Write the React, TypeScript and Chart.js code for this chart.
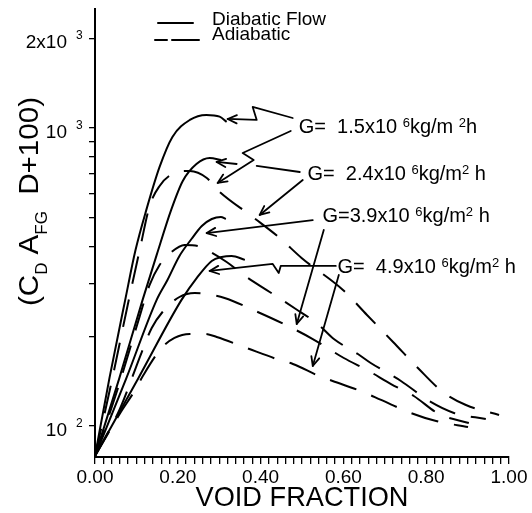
import React, { useEffect, useRef } from 'react';
import { Chart, registerables } from 'chart.js';

Chart.register(...registerables);

const FONT = '"Liberation Sans", Arial, Helvetica, sans-serif';

// ---- series: void fraction (x) vs C_D A_FG D + 100 (y) ----
// Diabatic flow (solid)
const diab15X = [0, 0.035, 0.073, 0.098, 0.124, 0.156, 0.187, 0.229, 0.269, 0.301, 0.318];
const diab15Y = [79.3, 145, 265, 390, 531, 740, 933, 1064, 1106, 1091, 1048];
const diab24X = [0, 0.059, 0.115, 0.149, 0.184, 0.212, 0.245, 0.277, 0.305];
const diab24Y = [79.3, 145, 265, 375, 531, 664, 757, 793, 781];
const diab39X = [0, 0.076, 0.149, 0.175, 0.204, 0.233, 0.258, 0.282, 0.304, 0.316];
const diab39Y = [79.3, 145, 265, 309, 372, 424, 469, 495, 503, 495];
const diab49X = [0, 0.105, 0.209, 0.246, 0.282, 0.306, 0.33, 0.362];
const diab49Y = [79.3, 145, 265, 314, 358, 369, 372, 361];

// Adiabatic (dashed)
const adia15X = [0, 0.04, 0.079, 0.108, 0.132, 0.156, 0.187, 0.229, 0.27, 0.296, 0.381, 0.446, 0.499, 0.599, 0.657, 0.72, 0.78, 0.84, 0.896, 0.976];
const adia15Y = [79.3, 140.5, 254.7, 389.6, 547.4, 638.9, 700.8, 717.3, 679.7, 619.4, 502.7, 427.5, 366.3, 286.0, 235.8, 191.4, 156.5, 130.1, 117.6, 108.9];
const adia24X = [0, 0.054, 0.098, 0.132, 0.156, 0.185, 0.216, 0.248, 0.27, 0.318, 0.366, 0.422, 0.485, 0.538, 0.577, 0.635, 0.666, 0.707, 0.739, 0.811, 0.867, 0.944];
const adia24Y = [79.3, 132.1, 209.9, 297.3, 347.0, 383.7, 405.1, 401.9, 389.6, 355.1, 316.2, 281.6, 246.9, 219.9, 195.8, 174.4, 162.7, 150.6, 141.6, 120.4, 110.6, 105.6];
const adia39X = [0, 0.059, 0.113, 0.137, 0.163, 0.204, 0.241, 0.27, 0.313, 0.393, 0.456, 0.526, 0.601, 0.661, 0.715, 0.77, 0.831, 0.903];
const adia39Y = [79.3, 113.2, 177.1, 213.2, 241.3, 270.9, 279.4, 277.3, 268.9, 241.3, 219.9, 195.8, 169.1, 153.0, 138.3, 126.1, 109.7, 102.4];
const adia49X = [0, 0.061, 0.097, 0.117, 0.161, 0.192, 0.229, 0.265, 0.294, 0.366, 0.446, 0.478, 0.541, 0.574, 0.647, 0.691, 0.763, 0.824, 0.901];
const adia49Y = [79.3, 110.6, 132.1, 148.3, 182.7, 197.4, 203.6, 203.6, 198.9, 182.7, 166.5, 161.5, 147.2, 141.6, 130.1, 122.3, 110.6, 103.9, 99.2];

// ---- axes ----
const X_MIN = 0;
const X_MAX = 1;
const Y_MIN = 78.7;
const Y_MAX = 2507;
const xTickValues = Array.from({ length: 51 }, (_, i) => i / 50);
const xLabelValues = [0, 0.2, 0.4, 0.6, 0.8, 1.0];
const xLabelTexts = ['0.00', '0.20', '0.40', '0.60', '0.80', '1.00'];
const yTickValues = [100, 200, 300, 400, 500, 600, 700, 800, 900, 1000, 2000];
const yLabelValues = [100, 1000, 2000];
const yLabelBases = ['10', '10', '2x10'];
const yLabelExps = ['2', '3', '3'];

const legendTexts = ['Diabatic Flow', 'Adiabatic'];
const xTitle = 'VOID FRACTION';

// ---- annotations (data coordinates: [void fraction, value]) ----
type Pt = [number, number];
const arrowPaths: { pts: Pt[]; head: boolean }[] = [
  { pts: [[0.4776, 1080], [0.3809, 1176], [0.3906, 1064], [0.3204, 1072]], head: true },
  { pts: [[0.4728, 977], [0.3567, 824], [0.3833, 781], [0.2963, 654]], head: true },
  { pts: [[0.4946, 711.6], [0.3906, 745.6]], head: false },
  { pts: [[0.3422, 757], [0.2938, 769]], head: true },
  { pts: [[0.5018, 669], [0.3978, 510.6]], head: true },
  { pts: [[0.526, 491], [0.2697, 444]], head: true },
  { pts: [[0.5526, 454.7], [0.4873, 219.9]], head: true },
  { pts: [[0.5816, 344.4], [0.4486, 344.4], [0.4438, 326.2], [0.4293, 349.8], [0.2769, 331.3]], head: true },
  { pts: [[0.5889, 321.2], [0.526, 159]], head: true },
];

type Part = [string, number]; // 0 normal, 1 superscript
const gLabels: { x: number; y: number; parts: Part[] }[] = [
  { x: 0.4921, y: 964, parts: [['G=  1.5x10 ', 0], ['6', 1], ['kg/m ', 0], ['2', 1], ['h', 0]] },
  { x: 0.5133, y: 669, parts: [['G=  2.4x10 ', 0], ['6', 1], ['kg/m', 0], ['2', 1], [' h', 0]] },
  { x: 0.5494, y: 485, parts: [['G=3.9x10 ', 0], ['6', 1], ['kg/m', 0], ['2', 1], [' h', 0]] },
  { x: 0.5857, y: 327, parts: [['G=  4.9x10 ', 0], ['6', 1], ['kg/m', 0], ['2', 1], [' h', 0]] },
];

const yTitleParts: Part[] = [['(C', 0], ['D', -1], [' A', 0], ['FG', -1], ['  D+100)', 0]];

function drawParts(ctx: CanvasRenderingContext2D, parts: Part[], x: number, y: number, big: number, small: number, shift: number) {
  let cx = x;
  for (const [t, k] of parts) {
    ctx.font = `${k === 0 ? big : small}px ${FONT}`;
    const dy = k === 1 ? -shift : k === -1 ? shift : 0;
    ctx.fillText(t, cx, y + dy);
    cx += ctx.measureText(t).width;
  }
  return cx - x;
}

function measureParts(ctx: CanvasRenderingContext2D, parts: Part[], big: number, small: number) {
  let w = 0;
  for (const [t, k] of parts) {
    ctx.font = `${k === 0 ? big : small}px ${FONT}`;
    w += ctx.measureText(t).width;
  }
  return w;
}

function arrowHead(ctx: CanvasRenderingContext2D, x0: number, y0: number, x1: number, y1: number) {
  const a = Math.atan2(y1 - y0, x1 - x0);
  const L = 10;
  const w = 0.42;
  ctx.beginPath();
  ctx.moveTo(x1 - L * Math.cos(a - w), y1 - L * Math.sin(a - w));
  ctx.lineTo(x1, y1);
  ctx.lineTo(x1 - L * Math.cos(a + w), y1 - L * Math.sin(a + w));
  ctx.stroke();
}

const overlay = {
  id: 'overlay',
  afterDraw(chart: any) {
    const { ctx, chartArea: ca, scales } = chart;
    const px = (v: number) => scales.x.getPixelForValue(v);
    const py = (v: number) => scales.y.getPixelForValue(v);
    ctx.save();
    ctx.fillStyle = '#000';
    ctx.strokeStyle = '#000';
    ctx.lineCap = 'round';
    ctx.lineJoin = 'round';
    ctx.textBaseline = 'alphabetic';

    // y tick labels with exponents
    yLabelValues.forEach((v, i) => {
      const y = py(v);
      ctx.textAlign = 'right';
      ctx.font = `19px ${FONT}`;
      ctx.fillText(yLabelBases[i], ca.left - 28, y + 10);
      ctx.textAlign = 'left';
      ctx.font = `12px ${FONT}`;
      ctx.fillText(yLabelExps[i], ca.left - 19, y + 1);
    });

    // y title (rotated)
    ctx.save();
    const tw = measureParts(ctx, yTitleParts, 28, 16);
    ctx.translate(38, 306);
    ctx.rotate(-Math.PI / 2);
    ctx.scale(209 / tw, 1);
    ctx.textAlign = 'left';
    drawParts(ctx, yTitleParts, 0, 0, 28, 16, 9);
    ctx.restore();

    // x title
    ctx.textAlign = 'center';
    ctx.font = `28px ${FONT}`;
    ctx.fillText(xTitle, (ca.left + ca.right) / 2, 506, 213);

    // legend
    ctx.lineWidth = 2;
    ctx.beginPath();
    ctx.moveTo(ca.left + 63, ca.top + 14);
    ctx.lineTo(ca.left + 98, ca.top + 14);
    ctx.moveTo(ca.left + 60, ca.top + 31);
    ctx.lineTo(ca.left + 72, ca.top + 31);
    ctx.moveTo(ca.left + 77, ca.top + 31);
    ctx.lineTo(ca.left + 104, ca.top + 31);
    ctx.stroke();
    ctx.textAlign = 'left';
    ctx.font = `19px ${FONT}`;
    ctx.fillText(legendTexts[0], ca.left + 117, ca.top + 16);
    ctx.fillText(legendTexts[1], ca.left + 117, ca.top + 31);

    // arrows
    ctx.lineWidth = 1.8;
    for (const a of arrowPaths) {
      const pts = a.pts.map(([x, y]) => [px(x), py(y)]);
      ctx.beginPath();
      pts.forEach(([x, y], i) => (i === 0 ? ctx.moveTo(x, y) : ctx.lineTo(x, y)));
      ctx.stroke();
      if (a.head) {
        const n = pts.length;
        arrowHead(ctx, pts[n - 2][0], pts[n - 2][1], pts[n - 1][0], pts[n - 1][1]);
      }
    }

    // G labels
    ctx.textAlign = 'left';
    for (const g of gLabels) {
      drawParts(ctx, g.parts, px(g.x), py(g.y), 20, 13, 6);
    }
    ctx.restore();
  },
};

export default function App() {
  const ref = useRef<HTMLCanvasElement>(null);
  useEffect(() => {
    const canvas = ref.current;
    if (!canvas) return;
    const mk = (xs: number[], ys: number[]) => xs.map((x, i) => ({ x, y: ys[i] }));
    const solid = (label: string, xs: number[], ys: number[]) => ({
      label,
      data: mk(xs, ys),
      borderColor: '#000',
      backgroundColor: '#000',
      borderWidth: 2,
      pointRadius: 0,
      fill: false,
      cubicInterpolationMode: 'monotone' as const,
    });
    const dashed = (label: string, xs: number[], ys: number[]) => ({
      ...solid(label, xs, ys),
      borderDash: [28, 16],
    });
    const chart = new Chart(canvas, {
      type: 'line',
      data: {
        datasets: [
          solid('Diabatic G=1.5', diab15X, diab15Y),
          solid('Diabatic G=2.4', diab24X, diab24Y),
          solid('Diabatic G=3.9', diab39X, diab39Y),
          solid('Diabatic G=4.9', diab49X, diab49Y),
          dashed('Adiabatic G=1.5', adia15X, adia15Y),
          dashed('Adiabatic G=2.4', adia24X, adia24Y),
          dashed('Adiabatic G=3.9', adia39X, adia39Y),
          dashed('Adiabatic G=4.9', adia49X, adia49Y),
        ] as any,
      },
      options: {
        responsive: false,
        animation: false,
        devicePixelRatio: 1,
        layout: { padding: { top: 9, right: 23, left: 0, bottom: 0 } },
        plugins: { legend: { display: false }, tooltip: { enabled: false } },
        scales: {
          x: {
            type: 'linear',
            min: X_MIN,
            max: X_MAX,
            afterBuildTicks: (s: any) => {
              s.ticks = xTickValues.map((v) => ({ value: v }));
            },
            afterFit: (s: any) => {
              s.height = 56;
            },
            ticks: {
              autoSkip: false,
              maxRotation: 0,
              minRotation: 0,
              color: '#000',
              padding: 2,
              font: { family: FONT, size: 19 },
              callback: (v: any) => {
                const i = xLabelValues.findIndex((lv) => Math.abs(lv - Number(v)) < 1e-6);
                return i >= 0 ? xLabelTexts[i] : '';
              },
            },
            grid: { drawOnChartArea: false, drawTicks: true, tickLength: 7, color: '#000', lineWidth: 1.3 },
            border: { display: true, color: '#000', width: 2 },
          },
          y: {
            type: 'logarithmic',
            min: Y_MIN,
            max: Y_MAX,
            afterBuildTicks: (s: any) => {
              s.ticks = yTickValues.map((v) => ({ value: v }));
            },
            afterFit: (s: any) => {
              s.width = 95;
            },
            ticks: { display: false },
            grid: { drawOnChartArea: false, drawTicks: true, tickLength: 6, color: '#000', lineWidth: 1.3 },
            border: { display: true, color: '#000', width: 2 },
          },
        },
      } as any,
      plugins: [overlay],
    });
    return () => chart.destroy();
  }, []);
  return (
    <div style={{ position: 'absolute', left: 0, top: 0, width: 532, height: 513, background: '#fff' }}>
      <canvas ref={ref} width={532} height={513} style={{ display: 'block', width: 532, height: 513 }} />
    </div>
  );
}
